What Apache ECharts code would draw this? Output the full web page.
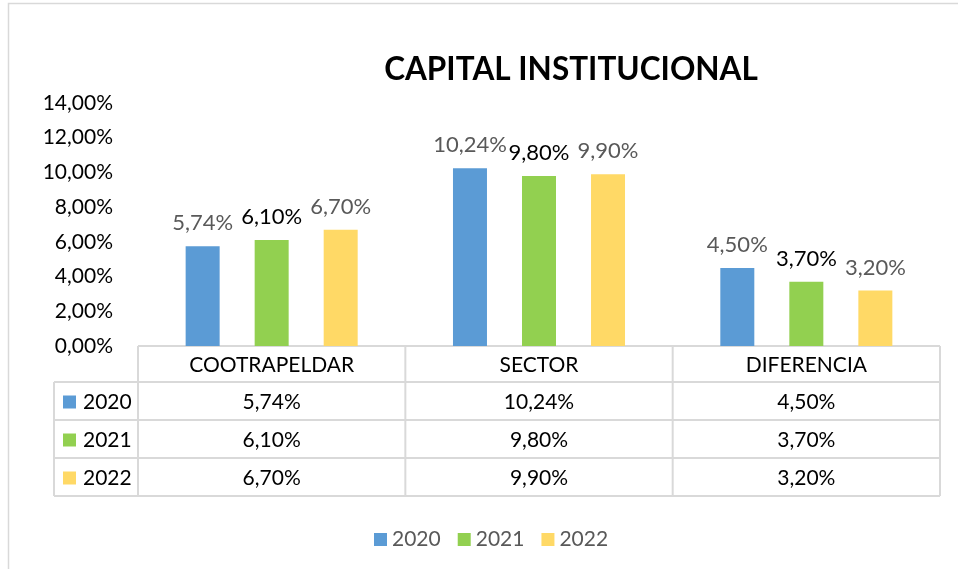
<!DOCTYPE html>
<html>
<head>
<meta charset="utf-8">
<script src="https://cdn.jsdelivr.net/npm/echarts@6/dist/echarts.min.js"></script>
<style>
  html, body { margin: 0; padding: 0; background: #fff; }
  #chart { width: 958px; height: 569px; }
</style>
</head>
<body>
<div id="chart"></div>
<script>
// datos del grafico
var categorias = ['COOTRAPELDAR', 'SECTOR', 'DIFERENCIA'];
var anios = ['2020', '2021', '2022'];
var valores2020 = [5.74, 10.24, 4.50];
var valores2021 = [6.10, 9.80, 3.70];
var valores2022 = [6.70, 9.90, 3.20];
var colores = ['#5b9bd5', '#92d050', '#ffd966'];
var colorEtiqueta = ['#595959', '#000000', '#595959'];

var FUENTE = 'Lato, "Noto Sans", sans-serif';
var GRIS = '#d9d9d9';

function pct(v) {
  return v.toFixed(2).replace('.', ',') + '%';
}

var series_vals = [valores2020, valores2021, valores2022];

var myChart = echarts.init(document.getElementById('chart'));

var option = {
  animation: false,
  textStyle: { fontFamily: FUENTE },
  title: {
    text: 'CAPITAL INSTITUCIONAL',
    left: 566,
    textAlign: 'center',
    top: 49,
    textStyle: { fontFamily: FUENTE, fontSize: 31.5, fontWeight: 'bold', color: '#000' }
  },
  legend: {
    data: anios,
    left: 369,
    top: 524,
    itemWidth: 13,
    itemHeight: 13,
    itemGap: 17,
    icon: 'rect',
    textStyle: { fontFamily: FUENTE, fontSize: 21, color: '#595959' }
  },
  grid: { left: 138, right: 18, top: 103, bottom: 223, containLabel: false },
  xAxis: {
    type: 'category',
    data: categorias,
    axisLine: { show: false },
    axisTick: { show: false },
    axisLabel: { show: false }
  },
  yAxis: {
    type: 'value',
    min: 0,
    max: 14,
    interval: 2,
    splitLine: { show: false },
    axisLine: { show: false },
    axisTick: { show: false },
    axisLabel: {
      margin: 25,
      fontFamily: FUENTE,
      fontSize: 21,
      color: '#000',
      formatter: function (v) { return pct(v); }
    }
  },
  series: anios.map(function (a, i) {
    return {
      name: a,
      type: 'bar',
      data: series_vals[i],
      barWidth: 34,
      barGap: '103%',
      itemStyle: { color: colores[i] },
      label: {
        show: true,
        position: 'top',
        distance: 12,
        fontFamily: FUENTE,
        fontSize: 22,
        color: colorEtiqueta[i],
        formatter: function (p) { return pct(p.value); }
      }
    };
  })
};

myChart.setOption(option);

// tabla de datos debajo del eje (como en Excel)
function dibujarTabla() {
  var c0 = myChart.convertToPixel({ xAxisIndex: 0 }, 0);
  var c1 = myChart.convertToPixel({ xAxisIndex: 0 }, 1);
  var banda = c1 - c0;
  var x0 = c0 - banda / 2;
  var yTop = myChart.convertToPixel({ yAxisIndex: 0 }, 0);
  var hHead = 36, hRow = 38;
  var xLeft = 54;
  var xEnd = x0 + banda * categorias.length;
  var els = [];

  // marco del grafico
  els.push({
    type: 'rect', silent: true,
    shape: { x: 8.5, y: 3.5, width: 1000, height: 1000 },
    style: { fill: 'none', stroke: GRIS, lineWidth: 1.5 }
  });

  function linea(x1, y1, x2, y2) {
    els.push({
      type: 'line', silent: true,
      shape: { x1: x1, y1: y1, x2: x2, y2: y2 },
      style: { stroke: GRIS, lineWidth: 2 }
    });
  }
  function texto(x, y, t, align) {
    els.push({
      type: 'text', silent: true,
      style: {
        x: x, y: y, text: t, align: align || 'center', verticalAlign: 'middle',
        fontFamily: FUENTE, fontSize: 21, fill: '#000'
      }
    });
  }

  var yRows = [yTop, yTop + hHead];
  for (var r = 0; r < anios.length; r++) yRows.push(yTop + hHead + hRow * (r + 1));
  var yBottom = yRows[yRows.length - 1];

  // lineas horizontales
  linea(x0, yRows[0], xEnd, yRows[0]);
  for (var k = 1; k < yRows.length; k++) linea(xLeft, yRows[k], xEnd, yRows[k]);
  // lineas verticales
  linea(xLeft, yRows[1], xLeft, yBottom);
  for (var j = 0; j <= categorias.length; j++) {
    linea(x0 + banda * j, yRows[0], x0 + banda * j, yBottom);
  }

  // encabezados
  categorias.forEach(function (cat, j) {
    texto(x0 + banda * (j + 0.5), (yRows[0] + yRows[1]) / 2 + 1, cat);
  });

  // filas
  anios.forEach(function (a, i) {
    var yc = (yRows[i + 1] + yRows[i + 2]) / 2 + 1;
    els.push({
      type: 'rect', silent: true,
      shape: { x: xLeft + 9, y: yc - 6.5, width: 13, height: 13 },
      style: { fill: colores[i] }
    });
    texto(xLeft + 29, yc, a, 'left');
    series_vals[i].forEach(function (v, j) {
      texto(x0 + banda * (j + 0.5), yc, pct(v));
    });
  });

  myChart.setOption({ graphic: { elements: els } });
}

dibujarTabla();
</script>
</body>
</html>
